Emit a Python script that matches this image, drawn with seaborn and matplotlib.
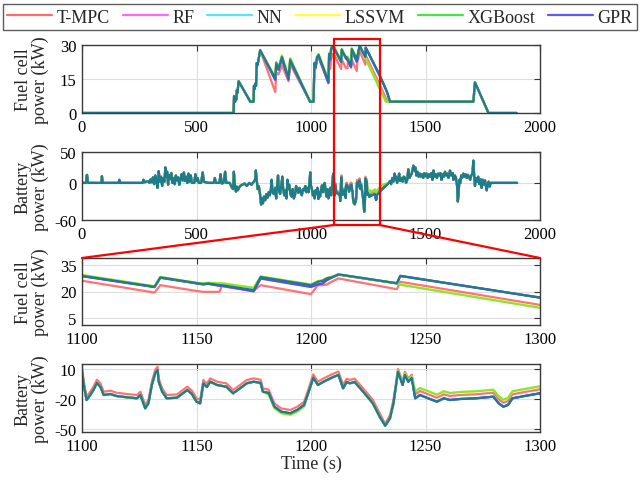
import matplotlib
matplotlib.use("Agg")
import matplotlib.pyplot as plt
import seaborn as sns
from matplotlib.lines import Line2D
from matplotlib.patches import Rectangle

# ---------------- data ----------------
methods = ["T-MPC", "RF", "NN", "LSSVM", "XGBoost", "GPR"]

# fuel cell power (kW)
fc_time_early = [0, 662, 664, 667, 669, 671, 674, 676, 679, 684, 735, 749, 751, 754, 757, 760, 763, 766, 770, 778]
fc_early = [0, 0, 7.5, 5, 5, 7, 6, 10, 9, 14, 5, 5, 12, 10.5, 13, 12, 22, 21, 23, 27.7]
fc_time_mid = [844, 848, 858, 873, 902, 909, 996, 1011, 1015, 1020, 1026, 1033, 1076, 1079, 1084, 1088, 1095,
               1100, 1131.7, 1134.2, 1150, 1153, 1155, 1160, 1161, 1175, 1178, 1200, 1203, 1205, 1207, 1209, 1212,
               1237.5, 1239, 1300, 1327, 1334, 1345]
fc_mid_tmpc = [9.2, 18, 17, 21, 14, 21.5, 5, 5, 21, 19.5, 23.5, 24.5, 13.1, 20.5, 19.5, 24, 26,
               26.1, 19.4, 23.6, 20.3, 19.8, 19.8, 19.8, 23.0, 20.4, 23.6, 18.5, 23.6, 23.6, 24.0, 25.5, 27.4,
               21.3, 25.5, 12.4, 6.6, 5.1, 5]
fc_mid_rf = [14.6, 21.4, 19, 24, 14.8, 22.8, 5, 5, 21.5, 20, 24, 25, 13.4, 25.4, 23.5, 28, 29,
             28.7, 22.5, 27.8, 24.6, 24.0, 24.4, 23.2, 23.2, 20.0, 27.4, 22.6, 24.0, 24.5, 26.5, 27.8, 29.6,
             24.6, 28.8, 16.5, 10.4, 8.6, 5]
fc_mid_nn = [15.2, 22, 19.5, 24.7, 15.5, 23.5, 5, 5, 22, 20.5, 24.5, 25.6, 14, 26, 24, 28.5, 29.5,
             28.9, 22.7, 28.0, 24.8, 24.2, 24.6, 23.6, 23.6, 20.8, 28.2, 23.6, 25.5, 26.0, 27.5, 28.0, 29.7,
             24.7, 28.9, 16.6, 10.5, 8.7, 5]
fc_mid_lssvm = [15.8, 22.6, 20, 25.5, 16, 24.3, 5, 5, 22.5, 21, 25, 26.2, 14.5, 26.5, 24.5, 29, 30,
                29.5, 23.0, 28.3, 25.0, 24.6, 25.0, 24.8, 24.8, 22.3, 28.6, 24.0, 26.0, 26.5, 27.8, 28.3, 29.7,
                24.7, 24.0, 10.9, 5, 5, 5]
fc_mid_xgb = [15.6, 22.4, 19.8, 25.3, 15.8, 24.1, 5, 5, 22.3, 20.8, 24.8, 26, 14.3, 26.3, 24.3, 28.8, 29.8,
              29.3, 22.9, 28.2, 24.9, 24.5, 24.9, 24.6, 24.6, 22.0, 28.5, 23.9, 25.8, 26.3, 27.7, 28.2, 29.7,
              24.7, 23.8, 10.7, 5, 5, 5]
fc_mid_gpr = [14.6, 21.4, 19, 24, 14.8, 22.8, 5, 5, 21.5, 20, 24, 25, 13.4, 25.4, 23.5, 28, 29,
              28.7, 22.5, 27.8, 24.6, 24.0, 24.4, 23.3, 23.3, 20.2, 27.4, 22.6, 24.0, 24.5, 26.5, 27.8, 29.6,
              24.6, 28.8, 16.5, 10.4, 8.6, 5]
fc_time_late = [1709, 1716, 1775, 1898]
fc_late = [5, 13.5, 0, 0]

# battery power (kW)
bat_time_early = [0, 18, 20, 22, 25, 28, 85, 87, 90, 92, 160, 163, 166, 168, 265, 268, 272, 290, 295, 300,
                  305, 310, 315, 320, 325, 330, 335, 340, 345, 350, 355, 360, 364, 368, 372, 376, 380, 385, 390, 395,
                  400, 405, 410, 415, 420, 425, 430, 435, 440, 445, 450, 455, 460, 465, 470, 475, 480, 490, 495, 500,
                  505, 510, 520, 527, 532, 540, 550, 575, 580, 585, 600, 605, 610, 618, 625, 630, 645, 655, 660, 663,
                  668, 672, 676, 680, 690, 700, 710, 720, 730, 740, 750, 756, 759, 762, 767, 772, 778, 782, 786, 790,
                  795, 800, 805, 810, 815, 820, 825, 828, 832, 838, 843, 848, 852, 856, 860, 865, 870, 875, 878, 883,
                  888, 893, 897, 900, 905, 910, 915, 920, 925, 930, 935, 940, 945, 950, 955, 960, 965, 970, 975, 980,
                  985, 990, 994, 997, 1000, 1003, 1008, 1012, 1016, 1020, 1024, 1028, 1032, 1036, 1040, 1044, 1048,
                  1052, 1056, 1060,
                  1064, 1068, 1072, 1076, 1080, 1084, 1088, 1092, 1096, 1098]
bat_early = [0, 0, 11, 13, 2, 0, 0, 11, 1, 0, 0, 5, 1, 0, 0, 5, 1, 3, 0, 6,
             1, 9, -2, 12, 3, -8, 19, 2, 10, -5, 8, 2, 25, 10, 18, -3, 13, 6, 16, 0,
             8, -2, 12, 4, 9, -3, 6, 14, 4, 17, 3, 10, 0, 15, 2, 12, 0, 0, 14, 3,
             8, 0, 0, 17, 2, 1, 0, 0, 8, 0, 0, 14, -1, 0, 18, 0, 0, -8, -10, 18,
             -5, -14, -6, -12, -5, -3, -1, -5, 0, -3, 2, 5, 20, 8, -10, -5, -20, -35, -25, -33,
             -22, -28, -18, -24, -15, -20, -10, 5, -15, -18, -8, -25, -5, 12, -12, -18, -5, 10, -8, -20,
             -12, -25, 5, -10, -3, -18, -22, -10, -25, -20, -5, -12, -16, -8, -15, -20, -10, -12, -5, -15,
             -8, -15, 5, 17, -5, -8, -20, -14, -25, -12, -18, -8, -26, -15, -22, -10, -4, -15, -3, 0,
             -14, -22, -10, -25, -18, -8, -20, -5, 12, 15]
bat_time_mid = [1100, 1101, 1102, 1103.6, 1105, 1106.5, 1108, 1109.5, 1112.4, 1115,
                1119.6, 1124, 1125.5, 1127.6, 1129, 1130.5, 1132, 1133, 1133.5, 1135,
                1137, 1141.5, 1144, 1146, 1148, 1150, 1151.6, 1153, 1154.5, 1156,
                1159, 1163, 1166, 1169, 1172, 1175, 1178, 1179, 1181.5, 1184,
                1187, 1191, 1194, 1197, 1199, 1201, 1203, 1205.5, 1207, 1210,
                1212, 1214, 1215.6, 1217, 1219, 1221.5, 1224, 1227, 1230, 1232.4,
                1234.5, 1236, 1237.5, 1238, 1240, 1241, 1242.5, 1244, 1245.5, 1247.6,
                1250.5, 1255, 1258, 1260.7, 1265, 1272, 1279.6, 1282, 1284, 1286,
                1288, 1294, 1300, 1320]
bat_mid_tmpc = [10.6, -5.7, -17.7, -12.7, -7.7, -0.7, -4.4, -12.7, -11.7, -13.7,
                -15, -16, -12.7, -26, -21, -2.7, 9.3, 12.3, 0.6, -9.4,
                -16, -15.4, -11, -7.7, -11.7, -19.4, -21, -1, -4.7, 0.6,
                -2.7, -4.4, -11, -6, -1, 0.6, -0.7, -9.4, -10.7, -24.4,
                -29.4, -31, -27.7, -22.7, -9.4, 4.6, -2.7, 0.6, 2.3, 5.6,
                7.3, -6, 0.3, -1, 0.3, -6, -12.7, -21, -34.4, -45,
                -36, -21, 2.3, 10, -2.7, 7.3, 0.6, 4.3, -15.3, -12,
                -14.7, -18.7, -15.3, -17, -16, -15.3, -13.7, -20.3, -23.7, -22,
                -15.3, -12.7, -10.3, -5]
bat_mid_nn = [7.3, -9, -21, -16, -11, -4, -7.7, -16, -15, -17,
              -18.3, -19.3, -16, -29.3, -24.3, -6, 6, 9, -2.7, -12.7,
              -19.3, -18.7, -14.3, -11, -15, -22.7, -24.3, -4.3, -8, -2.7,
              -6, -7.7, -14.3, -9.3, -4.3, -2.7, -4, -12.7, -14, -27.7,
              -32.7, -34.3, -31, -26, -12.7, 1.3, -6, -2.7, -1, 2.3,
              4, -9.3, -3, -4.3, -3, -9.3, -16, -24.3, -37.7, -46.7,
              -39.3, -24.3, -1, 7.3, -6, 4, -2.7, 1, -19.3, -16,
              -18.7, -22.7, -19.3, -21, -20, -19.3, -17.7, -24.3, -27.7, -26,
              -19.3, -16.7, -14.3, -7]
bat_mid_lssvm = [7.3, -9, -21, -16, -11, -4, -7.7, -16, -15, -17,
                 -18.3, -19.3, -16, -29.3, -24.3, -6, 6, 9, -2.7, -12.7,
                 -19.3, -18.7, -14.3, -11, -15, -22.7, -24.3, -4.3, -8, -2.7,
                 -6, -7.7, -14.3, -9.3, -4.3, -2.7, -4, -12.7, -15.5, -29.2,
                 -34.2, -35.8, -32.5, -27.5, -12.7, 1.3, -6, -2.7, -1, 2.3,
                 4, -9.3, -3, -4.3, -3, -9.3, -16, -24.3, -37.7, -46.7,
                 -39.3, -24.3, -1, 8.5, -4.5, 5.5, -1, 2.5, -12.3, -9,
                 -11.7, -15.7, -12.3, -14, -13, -12.3, -10.7, -17.3, -20.7, -19,
                 -12.3, -9.7, -7.3, -2]
bat_time_late = [1340, 1345, 1350, 1355, 1360, 1365, 1368, 1372, 1376, 1380, 1385, 1389, 1395, 1400, 1405, 1411,
                 1415, 1420, 1425, 1430,
                 1435, 1440, 1447, 1452, 1456, 1460, 1465, 1470, 1475, 1480, 1485, 1490, 1495, 1500, 1505, 1510,
                 1515, 1520, 1525, 1530,
                 1535, 1540, 1545, 1550, 1555, 1560, 1565, 1570, 1575, 1580, 1585, 1590, 1595, 1600, 1607, 1612,
                 1618, 1622, 1628, 1633,
                 1638, 1641, 1644, 1648, 1652, 1656, 1660, 1665, 1670, 1675, 1680, 1685, 1690, 1695, 1700, 1705,
                 1709, 1712, 1716, 1720,
                 1725, 1730, 1735, 1740, 1745, 1750, 1755, 1760, 1767, 1772, 1776, 1780, 1785, 1790, 1900]
bat_late = [0, 3, -2, 8, 2, 15, 5, 10, 0, 5, 15, 3, 8, 2, 10, 8, 0, 5, 22, 8,
            12, 15, 28, 20, 25, 12, 18, 10, 15, 10, 14, 8, 16, 11, 15, 8, 14, 10, 16, 5,
            20, 10, 14, 8, 15, 12, 16, 5, 14, 10, 18, 12, 15, 8, 20, 12, 16, 5, 12, 8,
            -5, -30, -20, 5, 0, 12, 8, 15, 10, 14, 8, 13, 10, 5, 12, 15, 36, 15, -5, 8,
            2, 10, -2, 6, -8, 5, -3, 4, -12, -2, 2, -6, 0, 0, 0]

fc_time = fc_time_early + fc_time_mid + fc_time_late
bat_time = bat_time_early + bat_time_mid + bat_time_late
fc = {
    "T-MPC": fc_early + fc_mid_tmpc + fc_late,
    "RF": fc_early + fc_mid_rf + fc_late,
    "NN": fc_early + fc_mid_nn + fc_late,
    "LSSVM": fc_early + fc_mid_lssvm + fc_late,
    "XGBoost": fc_early + fc_mid_xgb + fc_late,
    "GPR": fc_early + fc_mid_gpr + fc_late,
}
bat = {
    "T-MPC": bat_early + bat_mid_tmpc + bat_late,
    "RF": bat_early + bat_mid_nn + bat_late,
    "NN": bat_early + bat_mid_nn + bat_late,
    "LSSVM": bat_early + bat_mid_lssvm + bat_late,
    "XGBoost": bat_early + bat_mid_lssvm + bat_late,
    "GPR": bat_early + bat_mid_nn + bat_late,
}

# ---------------- style ----------------
sns.set_theme(style="white")
plt.rcParams["font.family"] = ["Liberation Serif", "DejaVu Serif"]
plt.rcParams["axes.unicode_minus"] = False

FS = 12
legend_colors = {"T-MPC": "#ff6b6b", "RF": "#ff66ff", "NN": "#55e6ff",
                 "LSSVM": "#ffff44", "XGBoost": "#44e844", "GPR": "#5a5aff"}
line_colors = {"T-MPC": "#ff6b6b", "RF": "#ee55ee", "NN": "#1b7d8e",
               "LSSVM": "#f2f22a", "XGBoost": "#33dd33", "GPR": "#4848f0"}
line_alpha = {"T-MPC": 0.95, "RF": 0.9, "NN": 1.0, "LSSVM": 1.0, "XGBoost": 0.55, "GPR": 0.9}
draw_order = ["T-MPC", "RF", "GPR", "LSSVM", "XGBoost", "NN"]

W, H = 640, 489
fig = plt.figure(figsize=(6.4, 4.89), dpi=100)

def box(l, t, r, b):
    return [l / W, 1 - b / H, (r - l) / W, (b - t) / H]

ax1 = fig.add_axes(box(82, 46, 540, 114))
ax2 = fig.add_axes(box(82, 153, 540, 221))
ax3 = fig.add_axes(box(82, 259, 540, 326))
ax4 = fig.add_axes(box(82, 365, 540, 433))

for ax, data in [(ax1, fc), (ax2, bat), (ax3, fc), (ax4, bat)]:
    t = fc_time if data is fc else bat_time
    for m in draw_order:
        sns.lineplot(x=t, y=data[m], ax=ax, color=line_colors[m], alpha=line_alpha[m],
                     lw=1.6, estimator=None, sort=False, legend=False)

ax1.set_xlim(0, 2000); ax1.set_ylim(0, 30); ax1.set_yticks([0, 15, 30])
ax2.set_xlim(0, 2000); ax2.set_ylim(-60, 50); ax2.set_yticks([-60, 0, 50])
ax3.set_xlim(1100, 1300); ax3.set_ylim(1, 39); ax3.set_yticks([5, 20, 35])
ax4.set_xlim(1100, 1300); ax4.set_ylim(-53, 15); ax4.set_yticks([-50, -20, 10])
for ax in (ax1, ax2):
    ax.set_xticks([0, 500, 1000, 1500, 2000])
for ax in (ax3, ax4):
    ax.set_xticks([1100, 1150, 1200, 1250, 1300])

for ax, lab in [(ax1, "Fuel cell\npower (kW)"), (ax2, "Battery\npower (kW)"),
                (ax3, "Fuel cell\npower (kW)"), (ax4, "Battery\npower (kW)")]:
    ax.set_xlabel("")
    ax.set_ylabel(lab, fontsize=FS + 1, linespacing=1.0)
    ax.yaxis.set_label_coords(-0.072, 0.5)
    ax.grid(True, color="#dedede", lw=0.8)
    ax.set_axisbelow(True)
    ax.tick_params(direction="in", top=True, right=True, length=4, width=0.8,
                   color="#333333", labelsize=FS, pad=4, labelcolor="black")
    for s in ax.spines.values():
        s.set_color("#3a3a3a"); s.set_linewidth(1.0)
ax4.set_xlabel("Time (s)", fontsize=FS + 1, labelpad=1)

# zoom indication
inv = fig.transFigure.inverted()
xl = inv.transform(ax1.transData.transform((1100, 0)))[0]
xr = inv.transform(ax1.transData.transform((1300, 0)))[0]
yb, yt = 1 - 226 / H, 1 - 40 / H
fig.add_artist(Rectangle((xl, yb), xr - xl, yt - yb, transform=fig.transFigure,
                         fill=False, edgecolor="red", lw=1.6, zorder=10))
p3 = ax3.get_position()
fig.add_artist(Line2D([xl, p3.x0], [yb, p3.y1], transform=fig.transFigure, color="red", lw=1.6, zorder=10))
fig.add_artist(Line2D([xr, p3.x1], [yb, p3.y1], transform=fig.transFigure, color="red", lw=1.6, zorder=10))

handles = [Line2D([], [], color=legend_colors[m], lw=1.6) for m in methods]
leg = fig.legend(handles, methods, loc="upper center", bbox_to_anchor=(0.5, 0.997), ncol=6,
                 fontsize=FS + 1, frameon=True, fancybox=False, edgecolor="#333333",
                 handlelength=2.5, handletextpad=0.25, columnspacing=0.7, borderpad=0.25,
                 borderaxespad=0.2)
leg.get_frame().set_linewidth(1.0)

fig.savefig("out.png", dpi=100)
